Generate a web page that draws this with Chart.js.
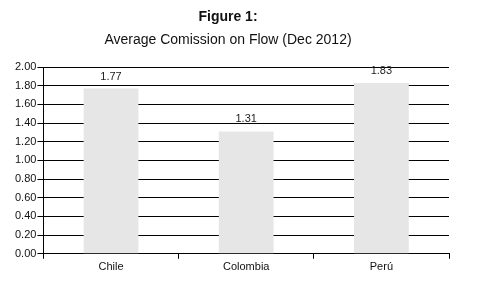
<!DOCTYPE html>
<html>
<head>
<meta charset="utf-8">
<script src="https://cdn.jsdelivr.net/npm/chart.js@4/dist/chart.umd.min.js"></script>
<style>
  html, body { margin: 0; padding: 0; background: #fff; }
  #wrap { width: 479px; height: 284px; }
</style>
</head>
<body>
<div id="wrap"><canvas id="chart"></canvas></div>
<script>
const categories = ["Chile", "Colombia", "Perú"];
const commission = [1.77, 1.31, 1.83];
const titleText = "Figure 1:";
const subtitleText = "Average Comission on Flow (Dec 2012)";

// titles are centred a bit left of the canvas middle in the original
const titlePlugin = {
    id: "titles",
    beforeDraw(chart) {
        const ctx = chart.ctx;
        ctx.save();
        ctx.fillStyle = "#111";
        ctx.textAlign = "center";
        ctx.textBaseline = "middle";
        ctx.font = "bold 14px 'Liberation Sans', Arial, sans-serif";
        ctx.fillText(titleText, 228, 17);
        ctx.font = "14px 'Liberation Sans', Arial, sans-serif";
        ctx.fillText(subtitleText, 228, 40);
        ctx.restore();
    }
};

// value labels above each bar
const valueLabels = {
    id: "valueLabels",
    afterDatasetsDraw(chart) {
        const ctx = chart.ctx;
        const meta = chart.getDatasetMeta(0);
        ctx.save();
        ctx.fillStyle = "#222";
        ctx.textAlign = "center";
        ctx.textBaseline = "middle";
        ctx.font = "11px 'Liberation Sans', Arial, sans-serif";
        meta.data.forEach(function(bar, i) {
            ctx.fillText(commission[i].toFixed(2), bar.x, bar.y - 12);
        });
        ctx.restore();
    }
};

new Chart(document.getElementById("chart"), {
    type: "bar",
    data: {
        labels: categories,
        datasets: [{
            data: commission,
            backgroundColor: "#e6e6e6",
            borderWidth: 0,
            barPercentage: 0.5,
            categoryPercentage: 0.81
        }]
    },
    options: {
        responsive: true,
        maintainAspectRatio: false,
        animation: false,
        layout: { padding: { top: 67, left: 14, right: 30, bottom: 8 } },
        plugins: {
            legend: { display: false },
            tooltip: { enabled: false }
        },
        scales: {
            x: {
                grid: {
                    drawOnChartArea: false,
                    drawTicks: true,
                    tickLength: 5,
                    color: "#000"
                },
                border: { color: "#000", width: 1 },
                ticks: {
                    color: "#111",
                    padding: 2,
                    font: { family: "'Liberation Sans', Arial, sans-serif", size: 11 }
                }
            },
            y: {
                min: 0,
                max: 2,
                grid: {
                    color: "#000",
                    drawTicks: true,
                    tickLength: 6
                },
                border: { color: "#000", width: 1 },
                ticks: {
                    stepSize: 0.2,
                    color: "#111",
                    padding: 1,
                    font: { family: "'Liberation Sans', Arial, sans-serif", size: 11 },
                    callback: function(v) { return Number(v).toFixed(2); }
                }
            }
        }
    },
    plugins: [titlePlugin, valueLabels]
});
</script>
</body>
</html>
